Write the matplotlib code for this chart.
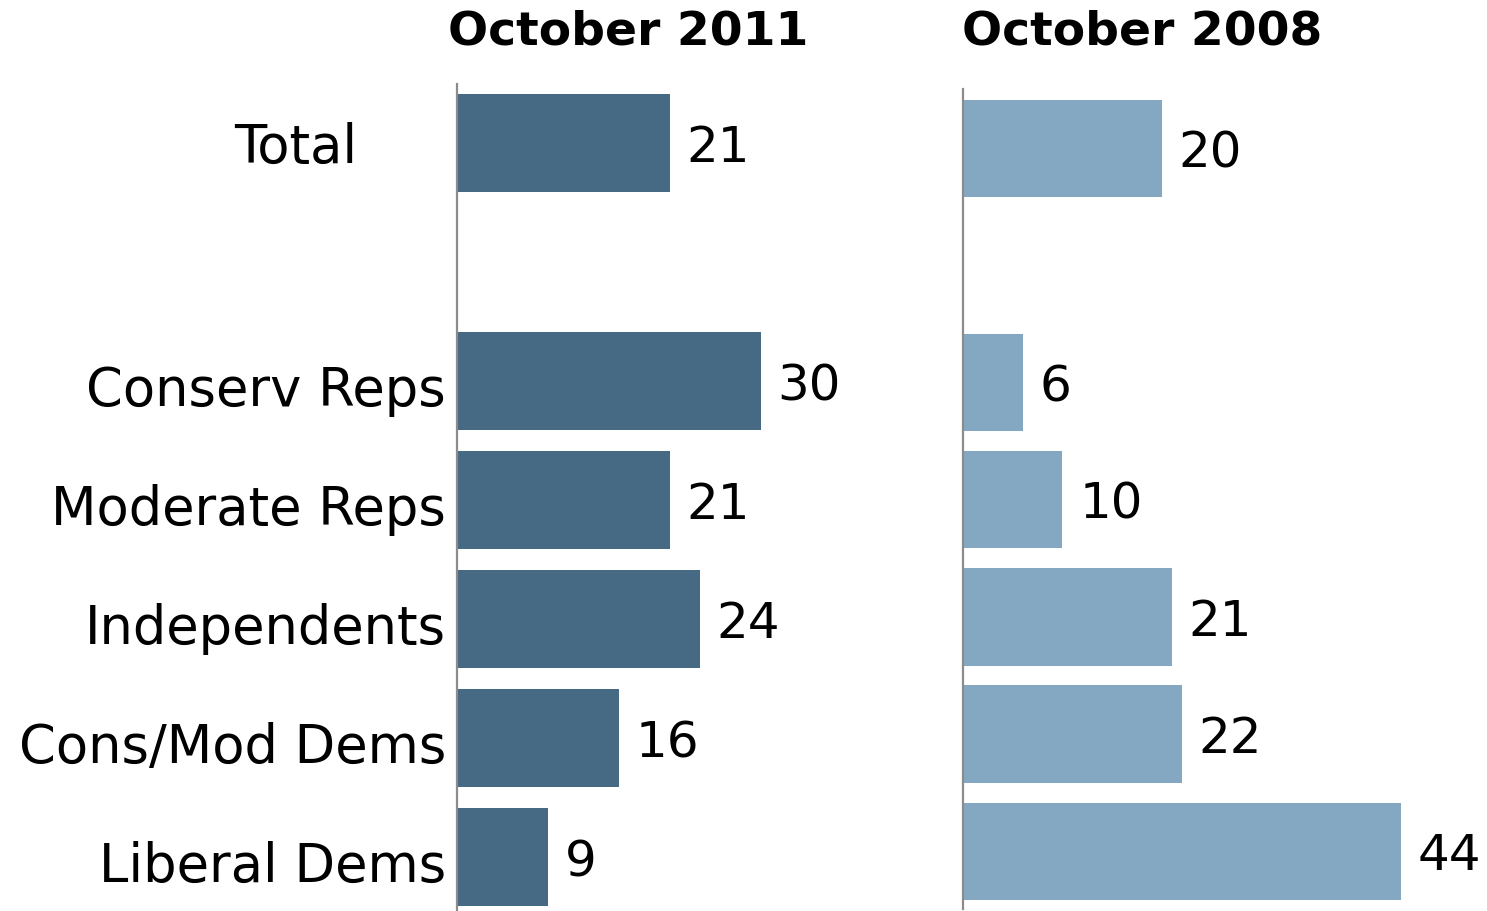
import matplotlib
matplotlib.use("Agg")
import matplotlib.pyplot as plt
from matplotlib.transforms import ScaledTranslation

groups = ["Total", "", "Conserv Reps", "Moderate Reps", "Independents",
          "Cons/Mod Dems", "Liberal Dems"]
oct_2011 = [21, None, 30, 21, 24, 16, 9]
oct_2008 = [20, None, 6, 10, 21, 22, 44]

W, H = 1487, 912
fig = plt.figure(figsize=(W / 100, H / 100), dpi=100)
plt.rcParams['font.family'] = ['DejaVu Sans']


def panel(left_px, top_px, bottom_px, width_px, ylim, values, color, bar_h):
    ax = fig.add_axes([left_px / W, 1 - bottom_px / H, width_px / W,
                       (bottom_px - top_px) / H])
    rows = [i for i, v in enumerate(values) if v is not None]
    vals = [values[i] for i in rows]
    ax.barh(rows, vals, height=bar_h, color=color, edgecolor='none')
    for r, v in zip(rows, vals):
        ax.annotate(str(v), xy=(v, r), xytext=(12, -3), textcoords='offset points',
                    ha='left', va='center', fontsize=36, color='black')
    ax.set_xlim(0, 50)
    ax.set_ylim(*ylim)
    for s in ['top', 'right', 'bottom']:
        ax.spines[s].set_visible(False)
    ax.spines['left'].set_color('#8c8c8c')
    ax.spines['left'].set_linewidth(1.6)
    ax.set_xticks([])
    return ax


ax1 = panel(457, 85, 912, 506.5, (6.454, -0.496), oct_2011, '#466a84', 0.82)
ax1.set_yticks(range(len(groups)))
# the Total label sits indented, away from the axis
ax1.set_yticklabels([""] + groups[1:], fontsize=38)
ax1.tick_params(axis='y', length=0, pad=8)
nudge = ScaledTranslation(0, -2.5 / 72, fig.dpi_scale_trans)
for lbl in ax1.get_yticklabels():
    lbl.set_transform(lbl.get_transform() + nudge)
ax1.annotate(groups[0], xy=(0, 0), xytext=(-116, -2.5), textcoords='offset points',
             ha='center', va='center', fontsize=38)

ax2 = panel(963, 90, 910, 497.5, (6.494, -0.508), oct_2008, '#84a8c2', 0.83)
ax2.set_yticks([])

fig.text(628 / W, 1 - 32 / H, "October 2011", ha='center', va='center',
         fontsize=34, fontweight='bold')
fig.text(1142 / W, 1 - 32 / H, "October 2008", ha='center', va='center',
         fontsize=34, fontweight='bold')

fig.savefig("out.png", dpi=100, facecolor='white')
